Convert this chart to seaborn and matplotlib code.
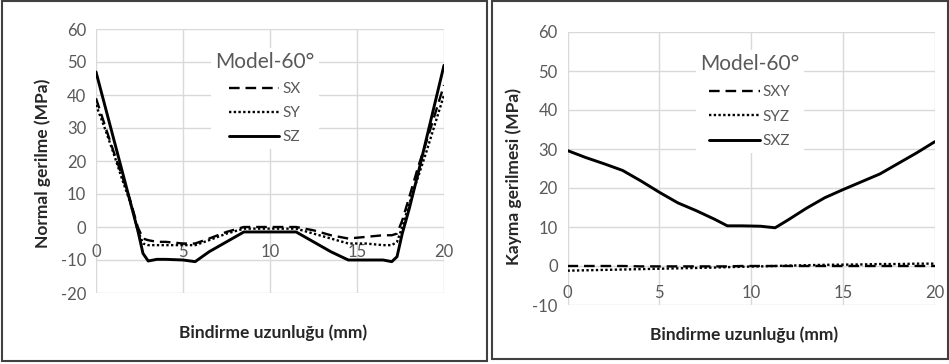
import matplotlib
matplotlib.use("Agg")
import matplotlib.pyplot as plt
from matplotlib.patches import Rectangle
import seaborn as sns
import numpy as np

# ---------------- data ----------------
x_left = [0, 0.5, 1, 1.5, 2, 2.4, 2.7, 3, 3.5, 4, 5, 5.7, 6.5, 7.5, 8.5, 9.5,
          10.5, 11.5, 12.5, 13.5, 14.5, 15.5, 16.5, 17, 17.3, 17.6, 18, 18.5,
          19, 19.5, 20]
sx = [39, 31, 23, 15.5, 7.5, 0, -3.5, -4, -4.5, -4.5, -5, -5, -3.5, -1.5, 0,
      0, 0, 0, -1, -2.5, -3.5, -3, -2.5, -2.5, -2, 2, 9, 18, 26, 34.5, 43]
sy = [37, 30, 22.5, 14.5, 7, -1, -5, -5.5, -5.5, -5.5, -5.5, -5.5, -4, -2,
      -0.5, -0.5, -0.5, -0.5, -2, -3.5, -5, -5, -5.5, -5.5, -4.5, 0, 7, 15,
      23, 31.5, 40]
sz = [47, 37, 27, 17, 7, -1, -8, -10.3, -9.8, -9.8, -10, -10.5, -7.5, -4.5,
      -1.5, -1.5, -1.5, -1.5, -4.5, -7.5, -10, -10, -10, -10.5, -9, -2, 5.5,
      16, 27, 38, 49]

x_right = [0, 1, 2, 3, 4, 5, 6, 7, 8, 8.7, 9.5, 10.5, 11.3, 12, 13, 14, 15,
           16, 17, 18, 19, 20]
sxy = [0, 0, 0, 0, -0.1, -0.1, -0.1, -0.1, -0.1, -0.1, 0, 0, 0, 0, 0, 0, 0,
       0, 0, 0, 0, 0]
syz = [-1.2, -1.1, -1.0, -0.9, -0.8, -0.7, -0.6, -0.5, -0.4, -0.3, -0.2, -0.1,
       0, 0.1, 0.2, 0.3, 0.35, 0.4, 0.5, 0.5, 0.6, 0.6]
sxz = [29.6, 27.8, 26.2, 24.5, 21.8, 18.9, 16.2, 14.2, 12, 10.3, 10.3, 10.2,
       9.8, 11.8, 14.8, 17.5, 19.6, 21.6, 23.6, 26.3, 29, 31.9]

x_ticks = [0, 5, 10, 15, 20]
left_yticks = [-20, -10, 0, 10, 20, 30, 40, 50, 60]
right_yticks = [-10, 0, 10, 20, 30, 40, 50, 60]
legend_title = "Model-60°"
xlabel = "Bindirme uzunluğu (mm)"
left_ylabel = "Normal gerilme (MPa)"
right_ylabel = "Kayma gerilmesi (MPa)"

# ---------------- style ----------------
sns.set_theme(style="white")
plt.rcParams['font.family'] = ['Lato', 'DejaVu Sans']
plt.rcParams['axes.unicode_minus'] = False

GRAY = "#595959"
GRID = "#d9d9d9"
DASH = (0, (4.5, 2.5))
DOT = (0, (1, 1))

fig = plt.figure(figsize=(9.49, 3.64), dpi=100)
W, H = 949, 364

def axes_px(l, r, t, b):
    return fig.add_axes([l / W, 1 - b / H, (r - l) / W, (b - t) / H])

axL = axes_px(96, 444, 29, 293)
axR = axes_px(567.5, 935, 32, 305)

def style_axes(ax, yticks, ylabel, xpad):
    ax.set_xlim(0, 20)
    ax.set_ylim(yticks[0], yticks[-1])
    ax.set_xticks(x_ticks)
    ax.set_yticks(yticks)
    ax.grid(True, color=GRID, lw=1.0)
    for s in ax.spines.values():
        s.set_visible(False)
    ax.spines['bottom'].set_position(('data', 0))
    ax.tick_params(axis='both', length=0, labelsize=12, labelcolor=GRAY)
    ax.tick_params(axis='x', pad=xpad)
    ax.tick_params(axis='y', pad=7)
    ax.set_xlabel(xlabel, fontsize=12.5, fontweight='bold', color="#262626")
    ax.set_ylabel(ylabel, fontsize=12.5, fontweight='bold', color="#262626")
    ax.set_facecolor("white")

style_axes(axL, left_yticks, left_ylabel, 12)
style_axes(axR, right_yticks, right_ylabel, 14)

lw = 1.7
sns.lineplot(x=x_left, y=sx, ax=axL, color="black", lw=lw, linestyle=DASH, label="SX")
sns.lineplot(x=x_left, y=sy, ax=axL, color="black", lw=lw, linestyle=DOT, label="SY")
sns.lineplot(x=x_left, y=sz, ax=axL, color="black", lw=lw + 0.4, linestyle="-", label="SZ")

sns.lineplot(x=x_right, y=sxy, ax=axR, color="black", lw=lw, linestyle=DASH, label="SXY")
sns.lineplot(x=x_right, y=syz, ax=axR, color="black", lw=lw, linestyle=DOT, label="SYZ")
sns.lineplot(x=x_right, y=sxz, ax=axR, color="black", lw=lw + 0.4, linestyle="-", label="SXZ")

axL.xaxis.set_label_coords(0.51, -0.12)
axR.xaxis.set_label_coords(0.48, -0.08)
axL.yaxis.set_label_coords(-0.13, 0.49)
axR.yaxis.set_label_coords(-0.125, 0.47)

def make_legend(ax, x_px, y_px, ax_box, spacing):
    l, r, t, b = ax_box
    bx = (x_px - l) / (r - l)
    by = (b - y_px) / (b - t)
    leg = ax.legend(title=legend_title, loc='upper left', bbox_to_anchor=(bx, by),
                    frameon=True, framealpha=1.0, edgecolor='none', facecolor='white',
                    fontsize=11, title_fontsize=15, handlelength=3.3,
                    handletextpad=0.2, labelspacing=spacing, borderpad=0.3,
                    fancybox=False)
    leg.get_title().set_color(GRAY)
    for t_ in leg.get_texts():
        t_.set_color(GRAY)

make_legend(axL, 203, 40, (96, 444, 29, 293), 0.65)
make_legend(axR, 688, 42, (567.5, 935, 32, 305), 0.7)

# panel frames
fig.patches.append(Rectangle((2 / W, 1 - 361 / H), (487 - 2) / W, (361 - 1) / H,
                             transform=fig.transFigure, fill=False,
                             edgecolor="#404040", lw=1.5))
fig.patches.append(Rectangle((492 / W, 1 - 359 / H), (947.5 - 492) / W, (359 - 1) / H,
                             transform=fig.transFigure, fill=False,
                             edgecolor="#404040", lw=1.5))

fig.savefig("out.png", dpi=100, facecolor="white")
